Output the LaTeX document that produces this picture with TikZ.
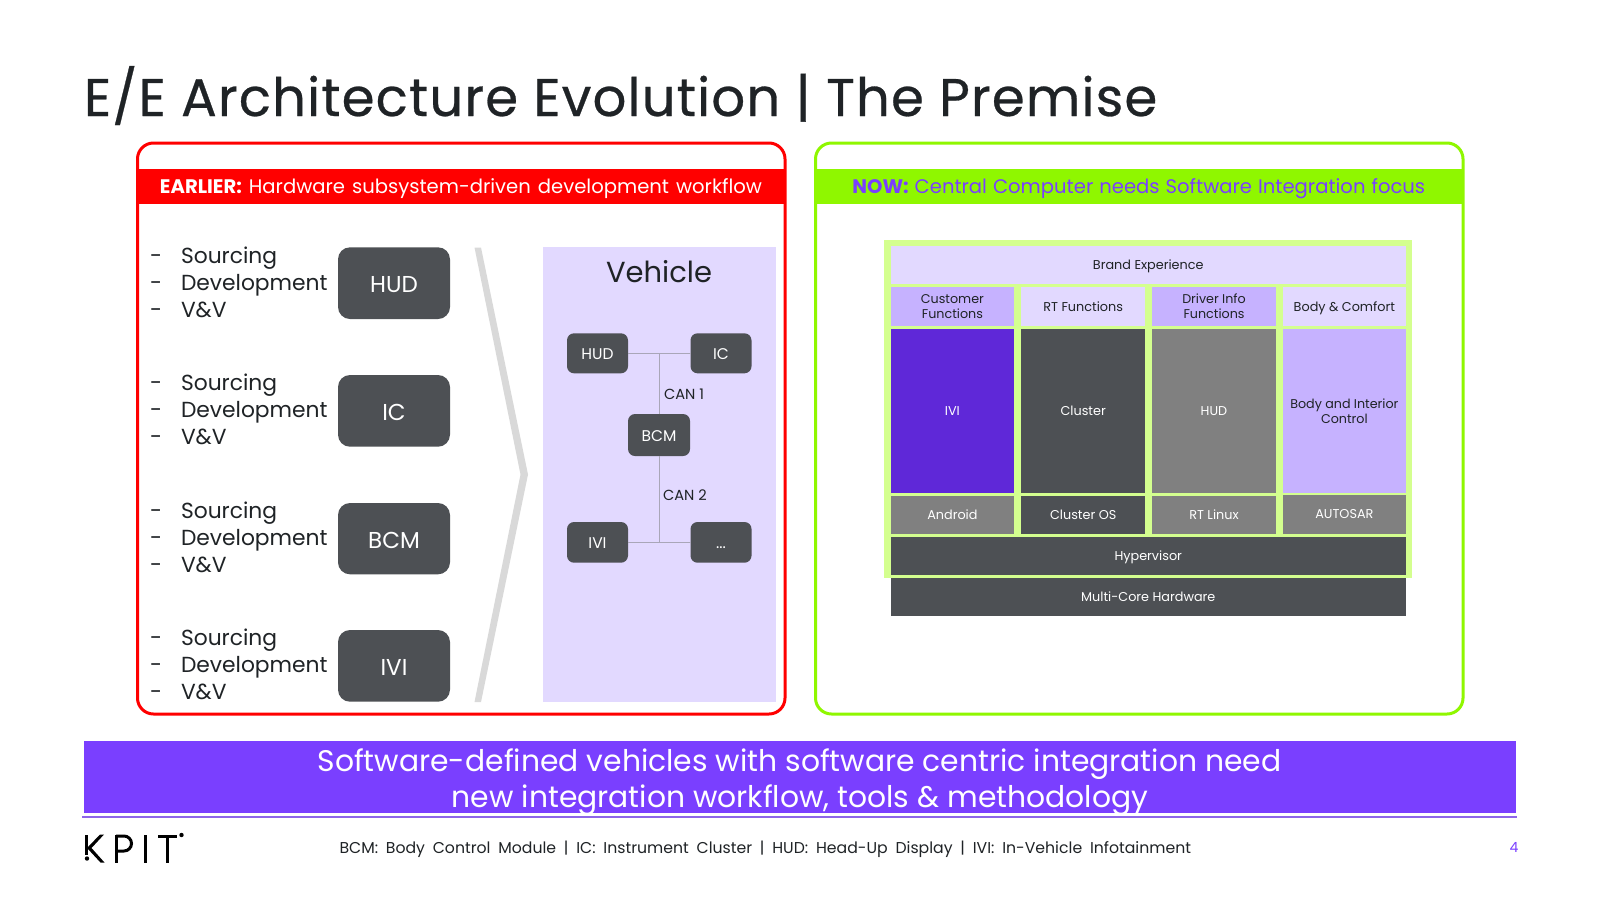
\documentclass[tikz,border=0pt]{standalone}
\usepackage{fontspec}
\setmainfont{Poppins}
\newfontfamily\titlefont[FakeBold=0.5,LetterSpace=2.1]{Poppins}
\definecolor{slate}{HTML}{4D5054}
\definecolor{gray5}{HTML}{808080}
\definecolor{lav}{HTML}{E2D9FF}
\definecolor{lilac}{HTML}{C6B2FF}
\definecolor{violet}{HTML}{7A3FFF}
\definecolor{deepv}{HTML}{5F28D8}
\definecolor{lime}{HTML}{8FF700}
\definecolor{palelime}{HTML}{D4FF8F}
\definecolor{chev}{HTML}{D9D9D9}
\definecolor{busline}{HTML}{A9A6B8}
\definecolor{ink}{HTML}{1F2326}
\definecolor{rule}{HTML}{8E66E8}
\newcommand{\fs}[2][]{\fontsize{#2}{#2}\selectfont}
\tikzset{
 x=1pt,y=-1pt,
 txt/.style={inner sep=0,outer sep=0,align=center,text=ink},
 basetxt/.style={txt,anchor=base},
 cell/.style={inner sep=0,outer sep=0,align=center,font=\fontsize{12.8}{15}\selectfont,text=white,text height=9pt,text depth=0pt},
 lightcell/.style={cell,text=ink},
 twoline/.style={inner sep=0,outer sep=0,align=center,font=\fontsize{12.7}{15}\selectfont,text=ink},
 ecu/.style={fill=slate,rounded corners=12,text=white,font=\fs{23},inner sep=0,outer sep=0,align=center,text height=19pt,text depth=0pt},
 minibox/.style={fill=slate,rounded corners=7,text=white,font=\fs{15.5},inner sep=0,outer sep=0,align=center,text height=12pt,text depth=0pt},
 bus/.style={draw=busline,line width=1pt},
 worklist/.style={txt,anchor=base west,font=\fs{21.8}},
 logo/.style={fill=black},
}
\begin{document}
\begin{tikzpicture}
\useasboundingbox (0,0) rectangle (1600,900);
\fill[white] (0,0) rectangle (1600,900);
\node[txt,anchor=base west,font=\titlefont\fs{53}] (title) at (84,116) {E/E Architecture Evolution | The Premise};
% red panel
\draw[red,line width=3pt,rounded corners=16] (137.5,143) rectangle (785,714);
\fill[red] (137.5,169) rectangle (785,204);
\node[basetxt,text=white,font=\fs{19.6}] (earlier) at (461,193.3) {\spaceskip=7pt\textbf{EARLIER:} Hardware subsystem-driven development workflow};
% green panel
\draw[lime,line width=3pt,rounded corners=16] (815.5,143) rectangle (1463,714);
\fill[lime] (815.5,169) rectangle (1463,204);
\node[basetxt,text=violet,font=\fs{19.6}] (now) at (1138.8,193.3) {\spaceskip=6pt\textbf{NOW:} Central Computer needs Software Integration focus};
% left ECUs
\foreach \nm/\ya/\yb/\yt in {HUD/247.3/319/263,IC/375/446.7/390,BCM/503/574.3/518,IVI/630/701.7/645}{
  \node[ecu,minimum width=112,minimum height=\yb-\ya,anchor=north west] (ecu\nm) at (338,\ya) {\nm};
  \foreach \k/\lab in {0/Sourcing,1/Development,2/V\&V}{
    \node[worklist] (d\nm\k) at (150,\yt+27*\k) {-};
    \node[worklist] (w\nm\k) at (181,\yt+27*\k) {\lab};
  }
}
% chevron
\fill[chev] (474.5,247.5) -- (481,247.5) -- (528,474.5) -- (481,702) -- (474.5,702) -- (520.5,474.5) -- cycle;
% vehicle
\fill[lav] (543,247.3) rectangle (776,701.7);
\node[basetxt,font=\fs{29}] (veh) at (659,282.4) {Vehicle};
\node[minibox,minimum width=61,minimum height=40,anchor=north west] (mhud) at (567,333.3) {HUD};
\node[minibox,minimum width=61,minimum height=40,anchor=north west] (mic) at (690.5,333.3) {IC};
\node[minibox,minimum width=62,minimum height=42,anchor=north west] (mbcm) at (628,414) {BCM};
\node[minibox,minimum width=61,minimum height=40.7,anchor=north west] (mivi) at (567,522) {IVI};
\node[minibox,minimum width=61,minimum height=40.7,anchor=north west] (mdots) at (690.5,522) {...};
\draw[bus] (mhud) -- (mic);
\coordinate (tjoin) at (659.5,353.3);
\coordinate (bjoin) at (659.5,542.3);
\draw[bus] (mbcm.north -| tjoin) -- (tjoin);
\draw[bus] (mivi) -- (mdots);
\draw[bus] (mbcm.south -| bjoin) -- (bjoin);
\node[txt,anchor=base west,font=\fs{14.6}] (can1) at (664,399.3) {CAN 1};
\node[txt,anchor=base west,font=\fs{14.6}] (can2) at (663,500.7) {CAN 2};
% stack
\fill[palelime] (884,239.8) rectangle (1412,578.3);
\newcommand{\cellbox}[8]{\node[#1,fill=#2,minimum width=#5-#3,minimum height=#6-#4,anchor=north west] (#8) at (#3,#4) {#7};}
\cellbox{lightcell}{lav}{890.5}{246}{1406}{283.7}{Brand Experience}{brand}
\cellbox{twoline}{lilac}{890.5}{287.3}{1014.3}{326}{Customer\\Functions}{cf}
\cellbox{lightcell}{lav}{1021}{287.3}{1145.4}{326}{RT Functions}{rt}
\cellbox{twoline}{lilac}{1152}{287.3}{1276}{326}{Driver Info\\Functions}{dif}
\cellbox{lightcell}{lav}{1282.7}{287.3}{1406}{326}{Body \& Comfort}{bc}
\cellbox{cell}{deepv}{890.5}{329.3}{1014.3}{492.7}{IVI}{sivi}
\cellbox{cell}{slate}{1021}{329.3}{1145.4}{492.7}{Cluster}{sclu}
\cellbox{cell}{gray5}{1152}{329.3}{1276}{492.7}{HUD}{shud}
\cellbox{twoline}{lilac}{1282.7}{329.3}{1406}{492.7}{Body and Interior\\Control}{sbody}
\cellbox{cell}{gray5}{890.5}{495.7}{1014.3}{534.3}{Android}{and}
\cellbox{cell}{slate}{1021}{495.7}{1145.4}{534.3}{Cluster OS}{cos}
\cellbox{cell}{gray5}{1152}{495.7}{1276}{534.3}{RT Linux}{rtl}
\cellbox{cell}{gray5}{1282.7}{495}{1406}{533.7}{AUTOSAR}{aut}
\cellbox{cell}{slate}{890.5}{536.7}{1406}{575.3}{Hypervisor}{hyp}
\cellbox{cell}{slate}{890.5}{578}{1406}{616.3}{Multi-Core Hardware}{mch}
% banner
\fill[violet] (84,741.2) rectangle (1516,812.7);
\node[basetxt,text=white,font=\fs{29.8}] (l1) at (799.5,771.7) {Software-defined vehicles with software centric integration need};
\node[basetxt,text=white,font=\fs{29.8}] (l2) at (800,807.5) {new integration workflow, tools \& methodology};
\draw[rule,line width=2pt] (82,816.7) -- (1516.5,816.7);
\node[basetxt,font=\fs{15.7}] (foot) at (765.3,853.3) {\spaceskip=7.8pt BCM: Body Control Module | IC: Instrument Cluster | HUD: Head-Up Display | IVI: In-Vehicle Infotainment};
\node[basetxt,text=violet,font=\fs{14}] (pg) at (1514,852.7) {4};
% KPIT logo
\fill[logo] (85,834.5) rectangle (88,855);
\fill[logo] (87,858.5) circle[radius=2.2];
\fill[logo] (88,847) -- (100,834.5) -- (104,834.5) -- (91.5,848) -- (104.5,862.5) -- (100.5,862.5) -- (88,849) -- cycle;
\fill[logo] (115,834.5) rectangle (118,862.5);
\draw[black,line width=3pt] (116,836) -- (124,836) arc[start angle=-90,end angle=90,radius=7.5] -- (116,851);
\fill[logo] (143.5,834.5) rectangle (146.8,862.5);
\fill[logo] (158.3,834.5) rectangle (176.7,837.5);
\fill[logo] (166,834.5) rectangle (169.2,862.5);
\fill[logo] (181.5,835) circle[radius=2.2];
\end{tikzpicture}
\end{document}
